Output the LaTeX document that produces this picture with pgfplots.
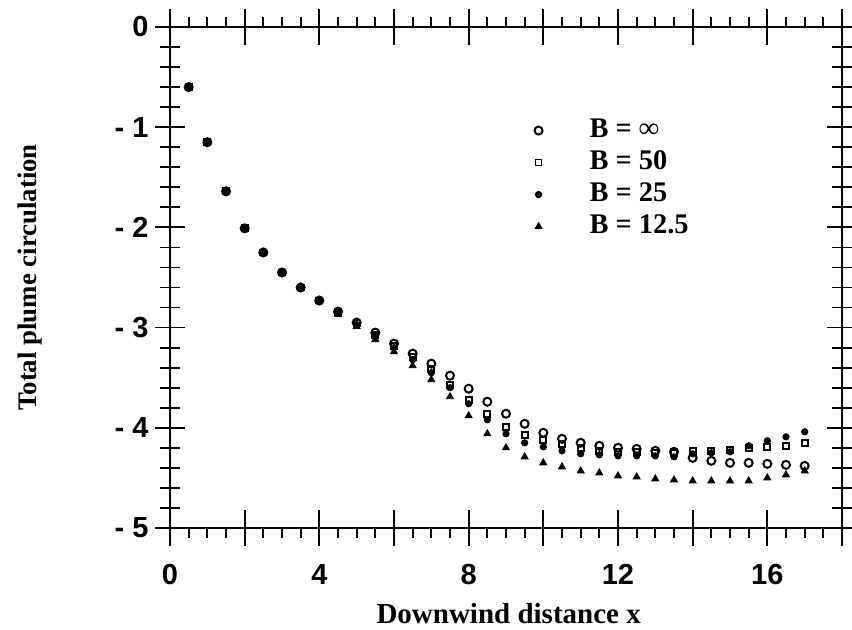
\documentclass[border=0pt]{standalone}
\usepackage{fontspec}
\setmainfont{Liberation Serif}
\newfontfamily\tickfont{Liberation Sans}
\usepackage{pgfplots}
\pgfplotsset{compat=1.18}

\pgfplotsset{
  plumebox/.style={
    scale only axis, width=336pt, height=250.5pt,
    xmin=0, xmax=18, ymin=-5, ymax=0,
    axis line style={line width=1pt},
    every tick/.style={black, line width=0.9pt},
    tick label style={font=\tickfont\bfseries\fontsize{14.5}{16}\selectfont},
  },
}

\begin{document}
\begin{tikzpicture}
% y ticks, crossing the frame
\begin{axis}[plumebox, xtick=\empty,
  ytick={-5,-4,...,0}, yticklabels={- 5,- 4,- 3,- 2,- 1,0},
  minor y tick num=4, tick align=center,
  major tick length=14.5pt, minor tick length=10pt]
\end{axis}
% small x ticks, pointing out
\begin{axis}[plumebox, ytick=\empty,
  xtick={0,0.5,...,18}, xticklabels={}, tick align=outside,
  major tick length=5pt]
\end{axis}
% data
\begin{axis}[plumebox, name=main,
  xtick={0,2,...,18}, xticklabels={0,,4,,8,,12,,16,,},
  xticklabel style={yshift=-5.5pt},
  ytick=\empty, tick align=center, major tick length=18pt,
  xlabel={Downwind distance x},
  ylabel={Total plume circulation},
  xlabel style={at={(axis description cs:0.504,-0.17)}, anchor=center,
    font=\bfseries\fontsize{14.5}{17}\selectfont},
  ylabel style={at={(axis description cs:-0.208,0.5)}, anchor=center,
    font=\bfseries\fontsize{13.4}{16}\selectfont},
  legend style={at={(axis description cs:0.536,0.822)}, anchor=north west,
    draw=none, fill=none, inner sep=0pt, row sep=2pt,
    font=\bfseries\fontsize{14.2}{16}\selectfont,
    nodes={inner sep=1.5pt, text height=9pt, text depth=2pt}},
  legend cell align=left,
  legend image code/.code={\draw[mark repeat=2,mark phase=2,#1]
    plot coordinates {(-4pt,0pt) (4pt,0pt) (12pt,0pt)};
    \path[draw=none, fill=none] (0pt,-3pt) rectangle (28pt,3pt);},
]
\addplot[only marks, mark=o, mark size=2pt, mark options={line width=1pt}] coordinates {
  (0.5,-0.60) (1,-1.15) (1.5,-1.64) (2,-2.01) (2.5,-2.25) (3,-2.45)
  (3.5,-2.60) (4,-2.73) (4.5,-2.84) (5,-2.95) (5.5,-3.05) (6,-3.16)
  (6.5,-3.26) (7,-3.36) (7.5,-3.48) (8,-3.61) (8.5,-3.74) (9,-3.86)
  (9.5,-3.96) (10,-4.05) (10.5,-4.11) (11,-4.15) (11.5,-4.18) (12,-4.20)
  (12.5,-4.21) (13,-4.23) (13.5,-4.24) (14,-4.30) (14.5,-4.33) (15,-4.35)
  (15.5,-4.35) (16,-4.36) (16.5,-4.37) (17,-4.38)
};
\addlegendentry{B = ∞}
\addplot[only marks, mark=square, mark size=1.5pt, mark options={line width=0.9pt}] coordinates {
  (0.5,-0.60) (1,-1.15) (1.5,-1.64) (2,-2.01) (2.5,-2.25) (3,-2.45)
  (3.5,-2.60) (4,-2.73) (4.5,-2.85) (5,-2.96) (5.5,-3.07) (6,-3.18)
  (6.5,-3.29) (7,-3.41) (7.5,-3.57) (8,-3.72) (8.5,-3.86) (9,-3.99)
  (9.5,-4.07) (10,-4.12) (10.5,-4.16) (11,-4.20) (11.5,-4.23) (12,-4.24)
  (12.5,-4.24) (13,-4.25) (13.5,-4.25) (14,-4.23) (14.5,-4.23) (15,-4.22)
  (15.5,-4.20) (16,-4.19) (16.5,-4.18) (17,-4.15)
};
\addlegendentry{B = 50}
\addplot[only marks, mark=*, mark size=1.6pt] coordinates {
  (0.5,-0.60) (1,-1.15) (1.5,-1.64) (2,-2.01) (2.5,-2.25) (3,-2.45)
  (3.5,-2.60) (4,-2.73) (4.5,-2.85) (5,-2.97) (5.5,-3.08) (6,-3.20)
  (6.5,-3.32) (7,-3.45) (7.5,-3.60) (8,-3.76) (8.5,-3.92) (9,-4.06)
  (9.5,-4.15) (10,-4.19) (10.5,-4.23) (11,-4.26) (11.5,-4.27) (12,-4.28)
  (12.5,-4.28) (13,-4.28) (13.5,-4.29) (14,-4.26) (14.5,-4.25) (15,-4.24)
  (15.5,-4.18) (16,-4.13) (16.5,-4.09) (17,-4.04)
};
\addlegendentry{B = 25}
\addplot[only marks, mark=triangle*, mark size=2pt] coordinates {
  (0.5,-0.60) (1,-1.15) (1.5,-1.64) (2,-2.01) (2.5,-2.25) (3,-2.45)
  (3.5,-2.60) (4,-2.73) (4.5,-2.87) (5,-2.99) (5.5,-3.12) (6,-3.24)
  (6.5,-3.38) (7,-3.52) (7.5,-3.69) (8,-3.88) (8.5,-4.06) (9,-4.20)
  (9.5,-4.29) (10,-4.35) (10.5,-4.39) (11,-4.43) (11.5,-4.45) (12,-4.48)
  (12.5,-4.49) (13,-4.51) (13.5,-4.52) (14,-4.53) (14.5,-4.53) (15,-4.53)
  (15.5,-4.53) (16,-4.50) (16.5,-4.47) (17,-4.43)
};
\addlegendentry{B = 12.5}
\end{axis}
\pgfresetboundingbox
\path[use as bounding box] ([shift={(-85pt,-51pt)}]main.south west)
  rectangle ([shift={(5pt,13.5pt)}]main.north east);
\end{tikzpicture}
\end{document}
